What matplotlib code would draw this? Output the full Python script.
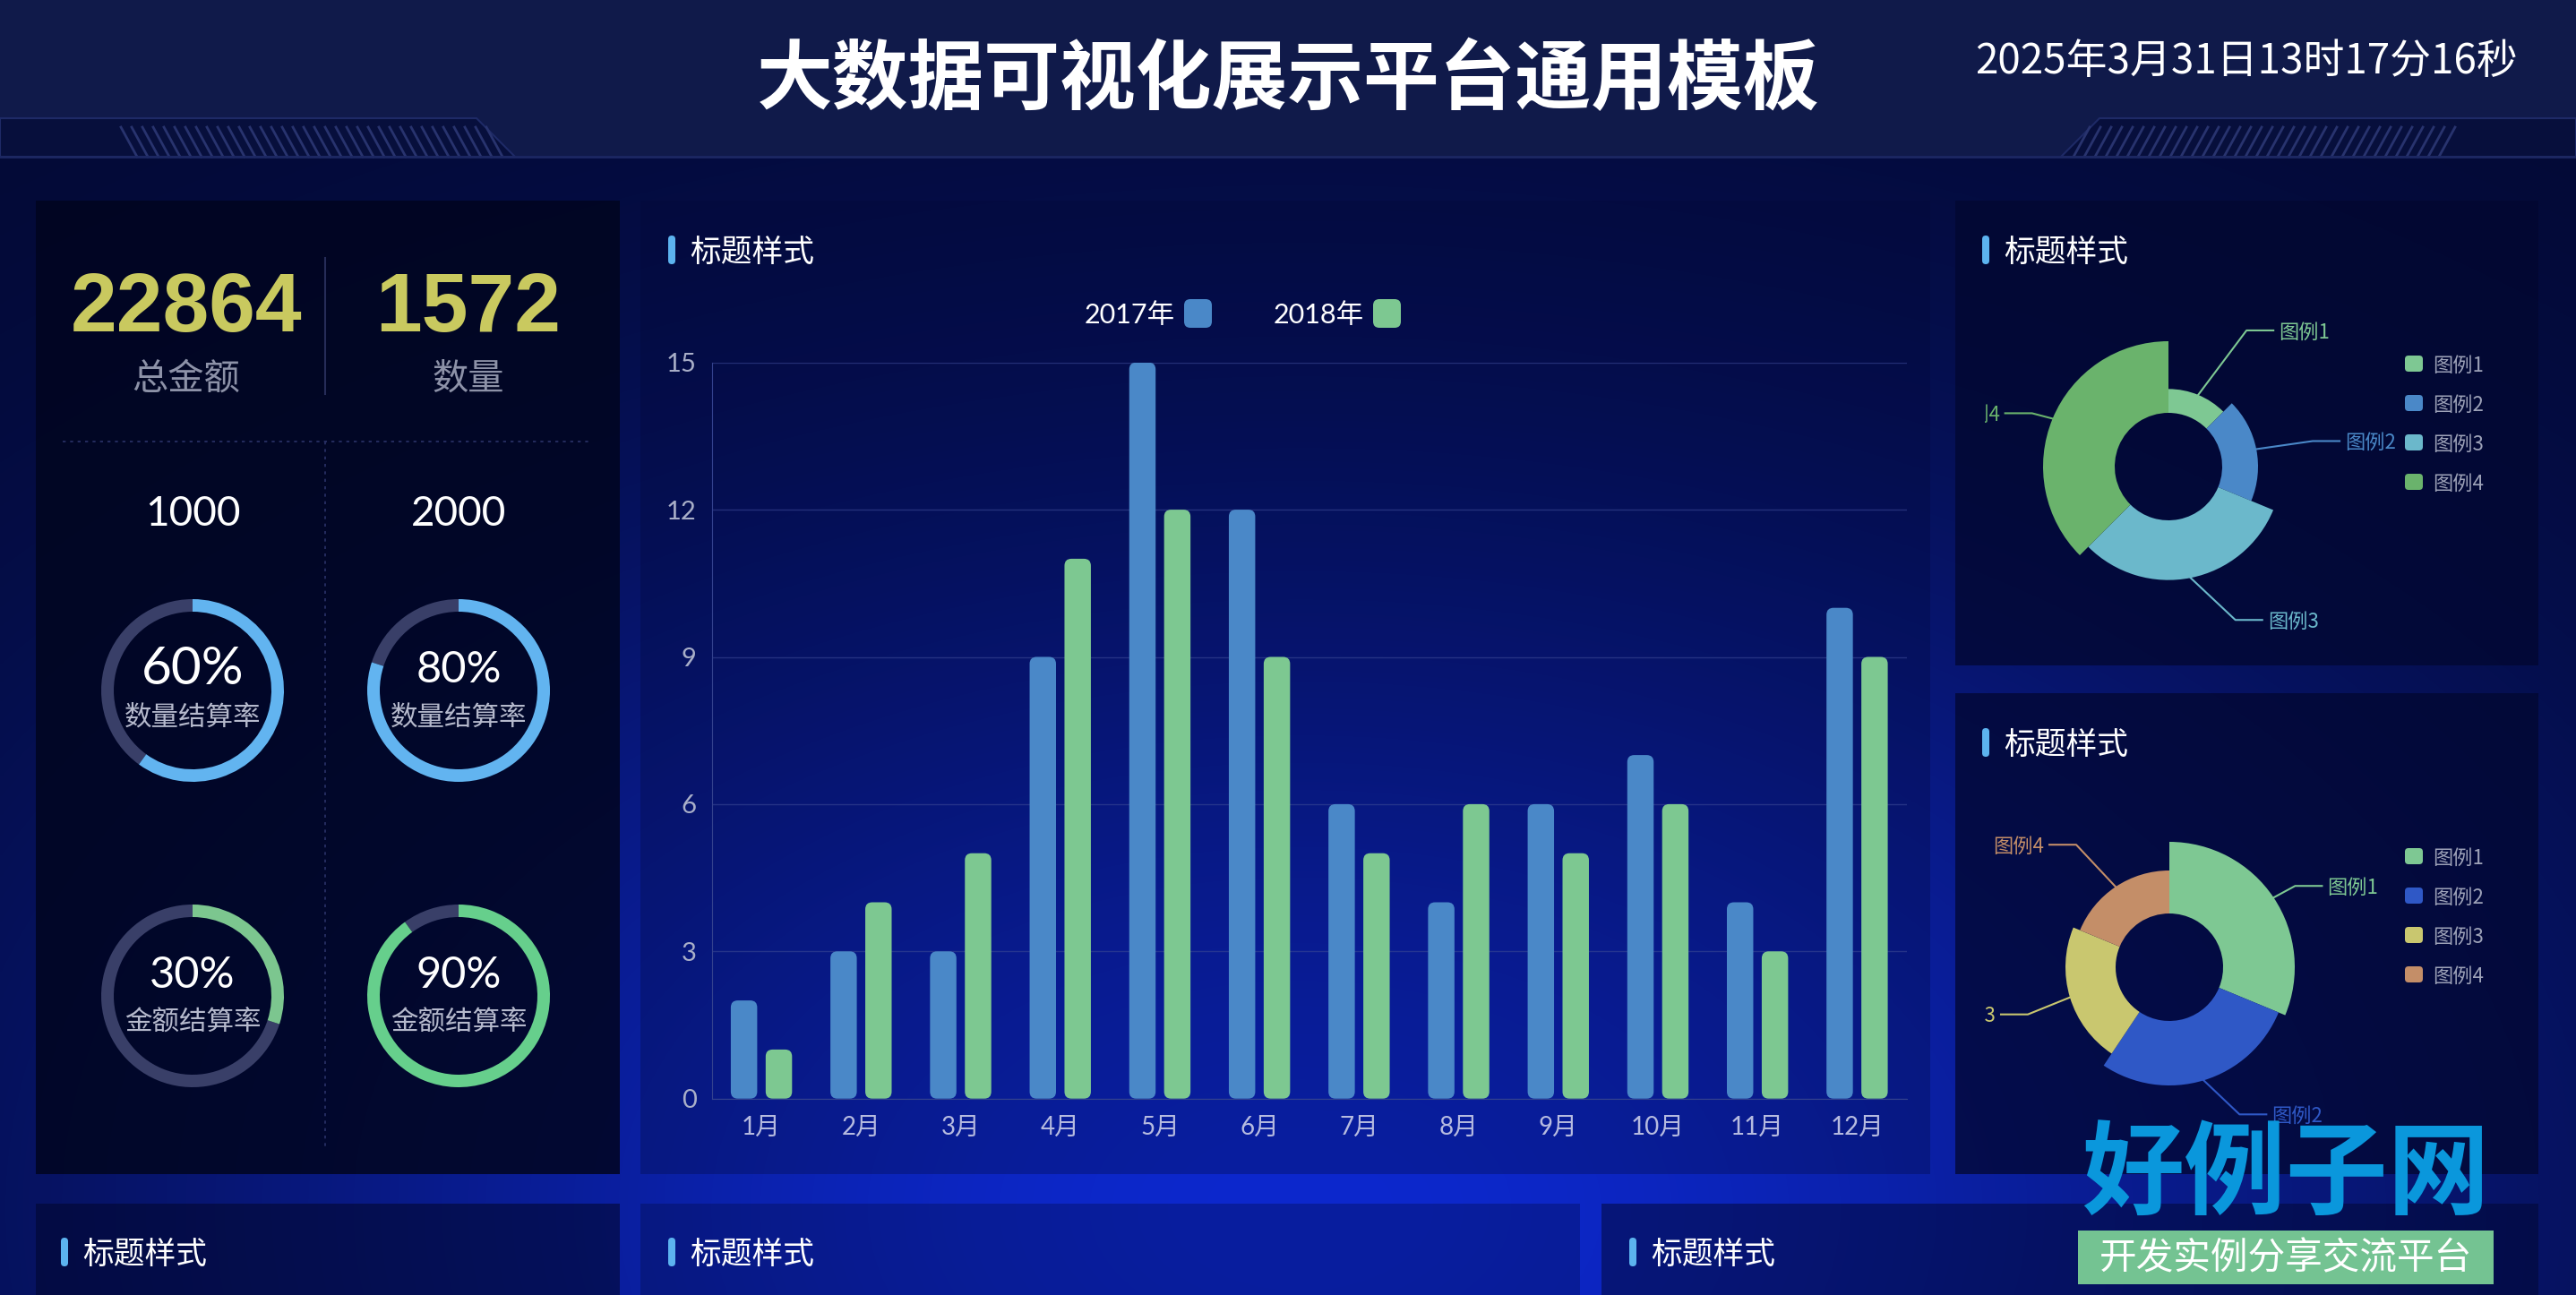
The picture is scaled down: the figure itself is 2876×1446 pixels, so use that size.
import numpy as np
import matplotlib
matplotlib.use('Agg')
import matplotlib.pyplot as plt
from matplotlib.patches import Wedge, Rectangle, FancyBboxPatch, Polygon

plt.rcParams['font.family'] = ['Noto Sans CJK SC', 'DejaVu Sans']
NUM = ['Lato', 'Noto Sans CJK SC', 'DejaVu Sans']

# ---- 数据 ----
title = '大数据可视化展示平台通用模板'
now_text = '2025年3月31日13时17分16秒'
panel_title = '标题样式'
months = ['1月', '2月', '3月', '4月', '5月', '6月', '7月', '8月', '9月', '10月', '11月', '12月']
years = ['2017年', '2018年']
v2017 = [2, 3, 3, 9, 15, 12, 6, 4, 6, 7, 4, 10]
v2018 = [1, 4, 5, 11, 12, 9, 5, 6, 5, 6, 3, 9]
kpi_values = [22864, 1572]
kpi_labels = ['总金额', '数量']
sub_values = [1000, 2000]
rates = [60, 80, 30, 90]
rate_names = ['数量结算率', '数量结算率', '金额结算率', '金额结算率']
legend_names = ['图例1', '图例2', '图例3', '图例4']
rose_top = [10, 15, 25, 30]
rose_bottom = [10, 9, 7, 6]

W, H = 2876, 1446
fig = plt.figure(figsize=(W / 100, H / 100), dpi=100)
bg = fig.add_axes([0, 0, 1, 1])

# 背景渐变
gy, gx = np.mgrid[0:H:4, 0:W:4]
f = np.exp(-((gx - 1450) / 1300.0) ** 2 - ((gy - 1350) / 800.0) ** 2)
dark = np.array([3, 9, 50]) / 255
bright = np.array([13, 40, 205]) / 255
img = dark + f[..., None] * (bright - dark)
bg.imshow(img, extent=[0, W, H, 0], aspect='auto', interpolation='bilinear', zorder=0)
bg.set_xlim(0, W)
bg.set_ylim(H, 0)
bg.axis('off')

# 顶部标题栏
bg.add_patch(Rectangle((0, 0), W, 175, fc='#101a4a', ec='none', zorder=1))
bg.add_patch(Polygon([(0, 132), (532, 132), (575, 175), (0, 175)], fc='#070f3c', ec='#1e2a66', lw=1.5, zorder=1))
bg.add_patch(Polygon([(W, 132), (W - 532, 132), (W - 575, 175), (W, 175)], fc='#070f3c', ec='#1e2a66', lw=1.5, zorder=1))
for xs in np.arange(135, 545, 12):
    bg.plot([xs, xs + 18], [142, 175], color='#28336e', lw=2, zorder=2)
    bg.plot([W - xs, W - xs - 18], [142, 175], color='#28336e', lw=2, zorder=2)
bg.plot([0, W], [175, 175], color='#1c2762', lw=2, zorder=2)
bg.text(1438, 90, title, color='white', fontsize=61, weight='bold', ha='center', va='center', zorder=3)
bg.text(2508, 69, now_text, color='white', fontsize=33, ha='center', va='center', zorder=3)


def panel(x0, y0, x1, y1, color, alpha):
    bg.add_patch(Rectangle((x0, y0), x1 - x0, y1 - y0, fc=color, alpha=alpha, ec='none', zorder=1))


panel(40, 224, 692, 1311, '#01051f', 0.85)
panel(715, 224, 2155, 1311, '#020836', 0.3)
panel(2183, 224, 2834, 743, '#020730', 0.75)
panel(2183, 774, 2834, 1311, '#020730', 0.75)
panel(40, 1344, 692, H, '#020730', 0.6)
panel(715, 1344, 1764, H, '#020836', 0.3)
panel(1788, 1344, 2834, H, '#020730', 0.5)


def title_at(x, y):
    bg.add_patch(FancyBboxPatch((x - 4, y - 16), 8, 32, boxstyle='round,pad=0,rounding_size=4',
                                fc='#5cb3ef', ec='none', zorder=5))
    bg.text(x + 20, y + 3, panel_title, color='white', fontsize=25, ha='left', va='center', zorder=5)


for tx, ty in [(750, 279), (2217, 279), (2217, 829), (72, 1398), (750, 1398), (1823, 1398)]:
    title_at(tx, ty)

# 左侧指标
for cx, val, lab in zip([208, 523], kpi_values, kpi_labels):
    bg.text(cx, 346, str(val), family=['Liberation Sans'], weight='bold', fontsize=67,
            color='#c9c95f', ha='center', va='center', zorder=5)
    bg.text(cx, 423, lab, color='#8d92a8', fontsize=29, ha='center', va='center', zorder=5)
bg.plot([363, 363], [288, 440], color='#262c58', lw=1.5, zorder=4)
bg.plot([70, 660], [493, 493], color='#2a3268', lw=1.2, ls=(0, (2, 3)), zorder=4)
bg.plot([363, 363], [493, 1280], color='#2a3268', lw=1.2, ls=(0, (2, 3)), zorder=4)
for cx, val in zip([215, 512], sub_values):
    bg.text(cx, 574, str(val), family=NUM, fontsize=33, color='white', ha='center', va='center', zorder=5)

ring_colors = ['#62b4f0', '#62b4f0', '#7cc68f', '#66cf8c']
ring_centers = [(215, 771), (512, 771), (215, 1112), (512, 1112)]
pct_sizes = [42, 35, 35, 35]
for (cx, cy), v, name, c, fs in zip(ring_centers, rates, rate_names, ring_colors, pct_sizes):
    bg.add_patch(Wedge((cx, cy), 102, -90 + 3.6 * v, 270, width=14, fc='#393f68', ec='none', zorder=4))
    bg.add_patch(Wedge((cx, cy), 102, -90, -90 + 3.6 * v, width=14, fc=c, ec='none', zorder=4))
    bg.text(cx, cy - 23, f'{v}%', family=NUM, fontsize=fs, color='white', ha='center', va='center', zorder=5)
    bg.text(cx, cy + 30, name, fontsize=22, color='#b5b9cc', ha='center', va='center', zorder=5)

# 右侧玫瑰图
clip = Rectangle((2216, 0), 700, H, transform=bg.transData)


def rose(center, values, colors, offsets, r0=60, rmax=140):
    cx, cy = center
    total = float(sum(values))
    vmax = float(max(values))
    start = 0.0
    for v, c, name, off in zip(values, colors, legend_names, offsets):
        span = 360 * v / total
        r = r0 + (rmax - r0) * v / vmax
        bg.add_patch(Wedge((cx, cy), r, start - 90, start + span - 90, width=r - r0, fc=c, ec='none', zorder=4))
        mid = np.radians(start + span / 2)
        px, py = cx + r * np.sin(mid), cy - r * np.cos(mid)
        ex, ey = px + off[0], py + off[1]
        side = 1 if ex > cx else -1
        hx = ex + side * 30
        bg.plot([px, ex, hx], [py, ey, ey], color=c, lw=1.5, zorder=4)
        t = bg.text(hx + side * 6, ey + 2, name, color=c, fontsize=16, ha='left' if side > 0 else 'right',
                    va='center', zorder=5, clip_on=True)
        t.set_clip_path(clip)
        start += span


def legend_at(y0, colors):
    for i, (name, c) in enumerate(zip(legend_names, colors)):
        y = y0 + 44 * i
        bg.add_patch(FancyBboxPatch((2685, y - 9), 20, 18, boxstyle='round,pad=0,rounding_size=4',
                                    fc=c, ec='none', zorder=5))
        bg.text(2716, y + 2, name, color='#9da2b8', fontsize=16, ha='left', va='center', zorder=5)


top_colors = ['#7ec893', '#4a88c8', '#6bb8cb', '#6ab36c']
bottom_colors = ['#7ec893', '#2f58c6', '#c9c76f', '#c48e68']
rose((2421, 521), rose_top, top_colors, [(54, -72), (63, -9), (50, 47), (-23, -6)])
rose((2422, 1080), rose_bottom, bottom_colors, [(24, -13), (40, 38), (-47, 19), (-44, -47)])
legend_at(406, top_colors)
legend_at(956, bottom_colors)

# 水印标志
bg.text(2552, 1314, '好例子网', color='#0a97dc', fontsize=82, weight='black', ha='center', va='center', zorder=6)
bg.add_patch(Rectangle((2320, 1374), 464, 60, fc='#74c392', ec='none', zorder=6))
bg.text(2552, 1406, '开发实例分享交流平台', color='white', fontsize=30, ha='center', va='center', zorder=7)

# 中间柱状图
c17, c18 = '#4a88c8', '#7dc891'
ax = fig.add_axes([794.5 / W, 1 - 1226.7 / H, 1334.5 / W, 822 / H])
ax.patch.set_alpha(0)
x = np.arange(len(months))
bw = 0.265
conts = [ax.bar(x - 0.175, v2017, bw, color=c17), ax.bar(x + 0.175, v2018, bw, color=c18)]
for cont, c in zip(conts, [c17, c18]):
    for rect in cont:
        rx, ry = rect.get_xy()
        ax.add_patch(FancyBboxPatch((rx, ry), rect.get_width(), rect.get_height(),
                                    boxstyle='round,pad=0,rounding_size=0.07', mutation_aspect=2.03,
                                    fc=c, ec='none', zorder=3))
        rect.set_visible(False)
ax.set_xlim(-0.5, 11.5)
ax.set_ylim(0, 15)
ax.set_yticks(range(0, 16, 3))
ax.set_xticks(x, months)
ax.grid(axis='y', color='#3a4894', lw=1, alpha=0.6)
ax.set_axisbelow(True)
for s in ['top', 'right']:
    ax.spines[s].set_visible(False)
for s in ['left', 'bottom']:
    ax.spines[s].set_color('#34428e')
ax.tick_params(axis='y', length=0, colors='#a9afc8', labelsize=21, pad=12)
ax.tick_params(axis='x', length=0, colors='#b6bbe0', labelsize=20, pad=14)
for lbl in ax.get_xticklabels() + ax.get_yticklabels():
    lbl.set_family(NUM)

# 图例（文字在左，色块在右）
for name, c, xr in zip(years, [c17, c18], [1312, 1523]):
    bg.text(xr, 352, name, family=NUM, color='white', fontsize=22, ha='right', va='center', zorder=5)
    bg.add_patch(FancyBboxPatch((xr + 10, 334), 31, 32, boxstyle='round,pad=0,rounding_size=7',
                                fc=c, ec='none', zorder=5))

fig.savefig('out.png', dpi=100)
